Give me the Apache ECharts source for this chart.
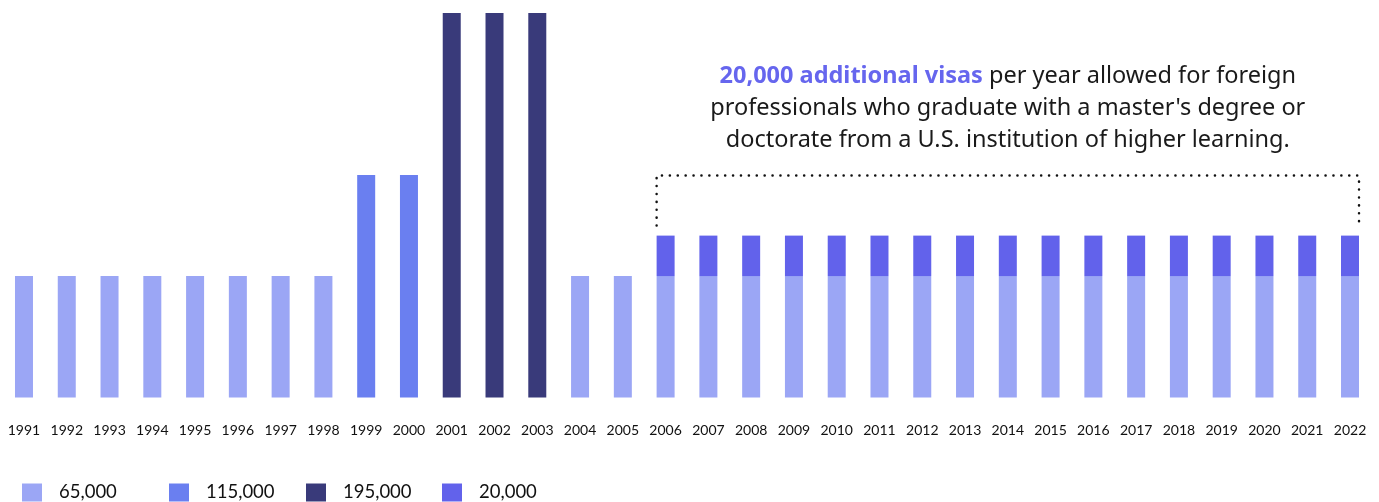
<!DOCTYPE html>
<html>
<head>
<meta charset="utf-8">
<script src="https://cdn.jsdelivr.net/npm/echarts@6/dist/echarts.min.js"></script>
<style>
  html, body { margin: 0; padding: 0; background: #fff; }
  #chart { width: 1379px; height: 502px; }
</style>
</head>
<body>
<div id="chart"></div>
<script>
// years on the x axis
var years = ['1991', '1992', '1993', '1994', '1995', '1996', '1997', '1998',
  '1999', '2000', '2001', '2002', '2003', '2004', '2005', '2006', '2007',
  '2008', '2009', '2010', '2011', '2012', '2013', '2014', '2015', '2016',
  '2017', '2018', '2019', '2020', '2021', '2022'];

// cap of 65,000
var cap65 = [65000, 65000, 65000, 65000, 65000, 65000, 65000, 65000,
  null, null, null, null, null, 65000, 65000, 65000, 65000,
  65000, 65000, 65000, 65000, 65000, 65000, 65000, 65000, 65000,
  65000, 65000, 65000, 65000, 65000, 65000];

// cap of 115,000
var cap115 = [null, null, null, null, null, null, null, null,
  115000, 115000, null, null, null, null, null, null, null,
  null, null, null, null, null, null, null, null, null,
  null, null, null, null, null, null];

// cap of 195,000
var cap195 = [null, null, null, null, null, null, null, null,
  null, null, 195000, 195000, 195000, null, null, null, null,
  null, null, null, null, null, null, null, null, null,
  null, null, null, null, null, null];

// master's degree exemption
var extra20 = [null, null, null, null, null, null, null, null,
  null, null, null, null, null, null, null, 20000, 20000,
  20000, 20000, 20000, 20000, 20000, 20000, 20000, 20000, 20000,
  20000, 20000, 20000, 20000, 20000, 20000];

var seriesNames = ['65,000', '115,000', '195,000', '20,000'];
var colors = ['#9ba6f5', '#6a7ff0', '#393a7a', '#6262eb'];
var legendLeft = [22, 169, 306, 442];

var FONT = 'Lato';
var NOTE_FONT = 'Noto Sans';
var chart = echarts.init(document.getElementById('chart'));

var dataList = [cap65, cap115, cap195, extra20];
var series = [];
for (var i = 0; i < dataList.length; i++) {
  series.push({
    name: seriesNames[i],
    type: 'bar',
    stack: 'visas',
    barWidth: 18,
    itemStyle: { color: colors[i] },
    data: dataList[i]
  });
}

var legends = [];
for (var j = 0; j < seriesNames.length; j++) {
  legends.push({
    data: [seriesNames[j]],
    left: legendLeft[j],
    top: 483,
    padding: 0,
    icon: 'rect',
    itemWidth: 20,
    itemHeight: 18,
    selectedMode: false,
    textStyle: { fontFamily: FONT, fontSize: 18.5, color: '#111', padding: [0, 0, 0, 12] }
  });
}

chart.setOption({
  animation: false,
  grid: { left: 2.6, right: 7.6, top: 13, bottom: 104.5 },
  legend: legends,
  xAxis: {
    type: 'category',
    data: years,
    axisLine: { show: false },
    axisTick: { show: false },
    axisLabel: { fontFamily: FONT, fontSize: 14, color: '#111', margin: 26 }
  },
  yAxis: {
    type: 'value',
    show: false,
    min: 5000,
    max: 195000
  },
  series: series
});

// dotted bracket over the stacked years + note
function drawNote() {
  var first = chart.convertToPixel({ seriesIndex: 3 }, ['2006', 85000]);
  var last = chart.convertToPixel({ seriesIndex: 3 }, ['2022', 85000]);
  var half = 9;
  var top = first[1] - 60;
  var bottom = first[1] - 10;
  chart.setOption({
    graphic: [{
      type: 'polyline',
      shape: { points: [[first[0] - half, bottom], [first[0] - half, top], [last[0] + half, top], [last[0] + half, bottom]] },
      style: { stroke: '#111', lineWidth: 2.5, lineDash: [0.1, 7.8], lineCap: 'round', fill: null }
    }, {
      type: 'text',
      x: (first[0] + last[0]) / 2,
      y: 60,
      style: {
        text: '{b|20,000 additional visas} per year allowed for foreign\nprofessionals who graduate with a master\'s degree or\ndoctorate from a U.S. institution of higher learning.',
        fontFamily: NOTE_FONT,
        fontSize: 23.5,
        lineHeight: 32,
        fill: '#1a1a1a',
        align: 'center',
        verticalAlign: 'top',
        rich: {
          b: { fontFamily: NOTE_FONT, fontSize: 23.5, fontWeight: 'bold', fill: '#6666ee', color: '#6666ee', lineHeight: 32 }
        }
      }
    }]
  });
}
drawNote();
</script>
</body>
</html>
